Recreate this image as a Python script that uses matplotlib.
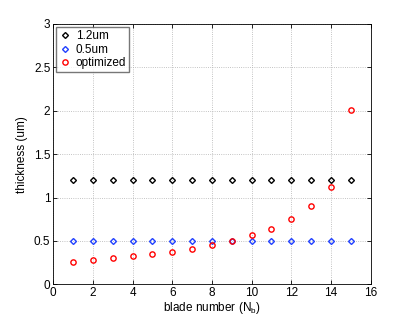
import matplotlib
matplotlib.use("Agg")
import matplotlib.pyplot as plt
import numpy as np

blade = np.arange(1, 16)
thick_12 = [1.2] * 15
thick_05 = [0.5] * 15
thick_opt = [0.261, 0.280, 0.300, 0.323, 0.346, 0.376, 0.411, 0.449,
             0.499, 0.565, 0.641, 0.749, 0.899, 1.125, 2.005]


def main():
    plt.rcParams["font.family"] = ["Liberation Sans", "DejaVu Sans"]
    plt.rcParams["mathtext.fontset"] = "custom"
    plt.rcParams["mathtext.rm"] = "Liberation Sans"
    plt.rcParams["mathtext.it"] = "Liberation Sans"
    fig = plt.figure(figsize=(4.09, 3.2), dpi=100)
    ax = fig.add_axes([0.130, 0.1115, 0.776, 0.8135])

    ax.plot(blade, thick_12, linestyle="none", marker="D", markersize=3.0,
            markerfacecolor="none", markeredgecolor="black", markeredgewidth=1.0, label="1.2um")
    ax.plot(blade, thick_05, linestyle="none", marker="D", markersize=3.0,
            markerfacecolor="none", markeredgecolor="#2040ff", markeredgewidth=1.0, label="0.5um")
    ax.plot(blade, thick_opt, linestyle="none", marker="o", markersize=3.8,
            markerfacecolor="none", markeredgecolor="#ff0000", markeredgewidth=1.0, label="optimized")

    ax.set_xlim(0, 16)
    ax.set_ylim(0, 3)
    ax.set_xticks(np.arange(0, 17, 2))
    ax.set_yticks(np.arange(0, 3.01, 0.5))
    ax.set_yticklabels(["0", "0.5", "1", "1.5", "2", "2.5", "3"])
    ax.tick_params(direction="in", top=True, right=True, labelsize=8.5, length=3, width=0.6, pad=2)
    for s in ax.spines.values():
        s.set_linewidth(0.6)
    ax.grid(True, linestyle=":", linewidth=0.6, color="#b0b0b0")

    ax.set_xlabel("blade number (N$_{\\mathrm{b}}$)", fontsize=8.5, labelpad=1)
    ax.set_ylabel("thickness (um)", fontsize=8.5, labelpad=4)

    leg = ax.legend(loc="upper left", fontsize=8.5, frameon=True, fancybox=False,
                    borderaxespad=0.25, handletextpad=0.4, handlelength=1.0,
                    labelspacing=0.15, borderpad=0.25)
    leg.get_frame().set_edgecolor("#555555")
    leg.get_frame().set_linewidth(1.0)

    fig.savefig("out.png", dpi=100)


if __name__ == "__main__":
    main()
